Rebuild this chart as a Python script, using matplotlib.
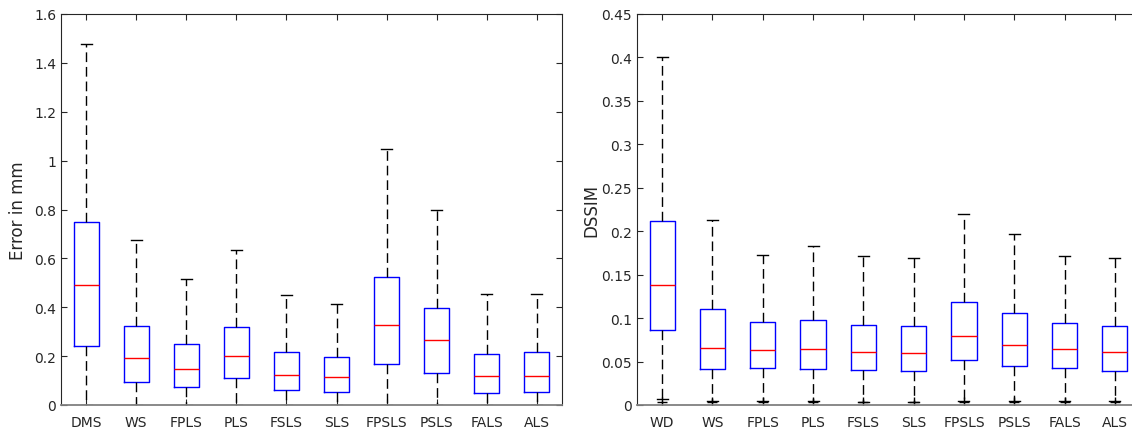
import matplotlib.pyplot as plt

# Datos (cuartiles y bigotes)
metodos_izq = ["DMS", "WS", "FPLS", "PLS", "FSLS", "SLS", "FPSLS", "PSLS", "FALS", "ALS"]
err_low = [0.0, 0.0, 0.0, 0.0, 0.0, 0.0, 0.0, 0.0, 0.0, 0.0]
err_q1 = [0.240, 0.093, 0.072, 0.109, 0.061, 0.053, 0.169, 0.130, 0.048, 0.053]
err_med = [0.492, 0.192, 0.146, 0.202, 0.123, 0.115, 0.327, 0.265, 0.117, 0.117]
err_q3 = [0.750, 0.325, 0.248, 0.318, 0.218, 0.198, 0.522, 0.396, 0.210, 0.216]
err_high = [1.477, 0.675, 0.516, 0.636, 0.451, 0.415, 1.049, 0.798, 0.454, 0.456]
err_out = [[], [], [], [], [], [], [], [], [], []]

metodos_der = ["WD", "WS", "FPLS", "PLS", "FSLS", "SLS", "FPSLS", "PSLS", "FALS", "ALS"]
dssim_low = [0.0065, 0.005, 0.005, 0.005, 0.004, 0.004, 0.005, 0.005, 0.005, 0.005]
dssim_q1 = [0.086, 0.042, 0.043, 0.041, 0.040, 0.0388, 0.052, 0.0449, 0.043, 0.0395]
dssim_med = [0.138, 0.066, 0.0637, 0.064, 0.0606, 0.0598, 0.0798, 0.0694, 0.0644, 0.061]
dssim_q3 = [0.2114, 0.110, 0.095, 0.098, 0.0925, 0.0905, 0.119, 0.106, 0.0947, 0.0913]
dssim_high = [0.400, 0.213, 0.1726, 0.183, 0.171, 0.169, 0.2198, 0.197, 0.172, 0.169]
dssim_out = [[0.004], [0.004], [0.004], [0.004], [0.003], [0.003], [0.004], [0.004], [0.004], [0.004]]

TXT = "#262626"


def dibujar_cajas(ax, nombres, low, q1, med, q3, high, outl):
    stats = []
    for i in range(len(nombres)):
        stats.append({"whislo": low[i], "q1": q1[i], "med": med[i],
                      "q3": q3[i], "whishi": high[i], "fliers": outl[i]})
    ax.bxp(stats, positions=range(1, len(nombres) + 1), widths=0.5,
           showfliers=True, capwidths=0.22,
           boxprops=dict(color="blue", linewidth=1.0),
           medianprops=dict(color="red", linewidth=1.0),
           whiskerprops=dict(color="black", linewidth=1.0, linestyle=(0, (7, 3.5))),
           capprops=dict(color="black", linewidth=1.0),
           flierprops=dict(marker="+", markeredgecolor="black", markersize=7,
                           markeredgewidth=1.0))
    ax.set_xlim(0.5, len(nombres) + 0.5)
    ax.set_xticks(range(1, len(nombres) + 1))
    ax.set_xticklabels(nombres)
    ax.tick_params(direction="in", top=True, right=True, labelsize=10,
                   colors=TXT, length=4)
    ax.tick_params(axis="x", pad=7)
    for s in ax.spines.values():
        s.set_color(TXT)
        s.set_linewidth(0.8)
    ax.spines["bottom"].set_color("#808080")
    ax.spines["bottom"].set_linewidth(1.3)


fig = plt.figure(figsize=(11.32, 4.31), dpi=100)
ax1 = fig.add_axes([61 / 1132, 1 - 406 / 431, 501 / 1132, 391 / 431])
ax2 = fig.add_axes([637 / 1132, 1 - 406 / 431, 503 / 1132, 391 / 431])

dibujar_cajas(ax1, metodos_izq, err_low, err_q1, err_med, err_q3, err_high, err_out)
ax1.set_ylim(0, 1.6)
ax1.set_yticks([0, 0.2, 0.4, 0.6, 0.8, 1, 1.2, 1.4, 1.6])
ax1.set_yticklabels(["0", "0.2", "0.4", "0.6", "0.8", "1", "1.2", "1.4", "1.6"])
ax1.set_ylabel("Error in mm", fontsize=12, color=TXT, labelpad=5)

dibujar_cajas(ax2, metodos_der, dssim_low, dssim_q1, dssim_med, dssim_q3, dssim_high, dssim_out)
ax2.set_ylim(0, 0.45)
ax2.set_yticks([0, 0.05, 0.1, 0.15, 0.2, 0.25, 0.3, 0.35, 0.4, 0.45])
ax2.set_yticklabels(["0", "0.05", "0.1", "0.15", "0.2", "0.25", "0.3", "0.35", "0.4", "0.45"])
ax2.set_ylabel("DSSIM", fontsize=12, color=TXT, labelpad=1)

fig.savefig("out.png", dpi=100)
plt.close(fig)
